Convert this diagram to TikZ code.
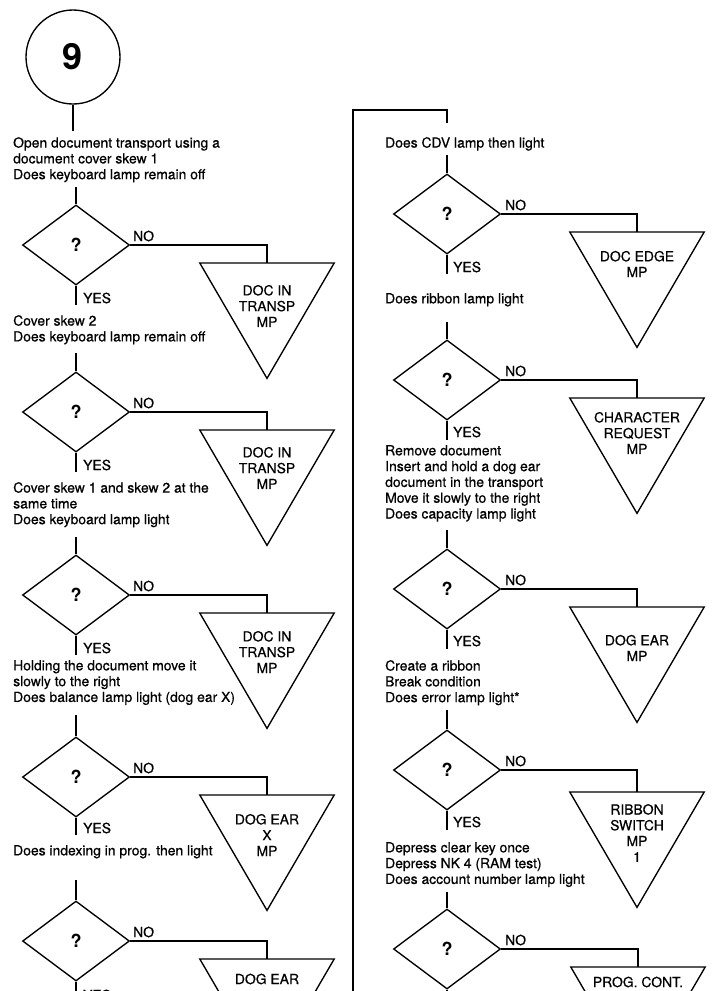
\documentclass[tikz,border=0pt]{standalone}
\usepackage{fontspec}
\setmainfont{TeX Gyre Heros}
\newfontfamily\printfont{TeX Gyre Heros}[FakeBold=0.6]
\usetikzlibrary{shapes.geometric}
\newcommand\bodyfont{\printfont\fontsize{13.9}{15.8}\selectfont}

\begin{document}
\begin{tikzpicture}[x=1pt,y=-1pt,
  flow/.style={line width=1.35pt, line join=miter},
  decision/.style={diamond, draw, line width=1.35pt, minimum width=107pt,
    minimum height=80pt, inner sep=0pt, font=\bfseries\fontsize{18}{18}\selectfont},
  stub/.style={minimum width=134pt, minimum height=115pt, inner sep=0pt, anchor=north},
  note/.style={anchor=north west, align=left, inner sep=0pt, font=\bodyfont},
  tag/.style={anchor=west, inner sep=0pt, font=\bodyfont},
  stubtext/.style={align=center, inner sep=0pt, font=\bodyfont},
]
\useasboundingbox (0,0) rectangle (712,991);
\clip (0,0) rectangle (712,991);

% ---------------- left column ----------------
\node[draw, circle, flow, minimum size=94pt, inner sep=0pt,
      font=\bfseries\fontsize{36}{36}\selectfont] (c9) at (73,57) {9};
\coordinate (a0) at (73,131);
\draw[flow] (c9.south) -- (a0);

\node[note] (t1) at (13,137) {Open document transport using a\\document cover skew 1\\Does keyboard lamp remain off};
\coordinate (b1) at (76,187);
\node[decision] (d1) at (76,245) {?};
\draw[flow] (b1) -- (d1.north);
\node[stub] (p1) at (267,263) {};
\draw[flow] (p1.north west) -- (p1.north east) -- (p1.south) -- cycle;
\draw[flow] (d1.east) -| (p1.north);
\node[tag] (n1) at (133,236) {NO};
\node[stubtext] (s1) at (267,306) {DOC IN\\TRANSP\\MP};
\coordinate (y1) at (76,305);
\draw[flow] (d1.south) -- (y1);
\node[tag] (k1) at (83,298) {YES};

\node[note] (t2) at (13,315) {Cover skew 2\\Does keyboard lamp remain off};
\coordinate (b2) at (76,353);
\node[decision] (d2) at (76,412) {?};
\draw[flow] (b2) -- (d2.north);
\node[stub] (p2) at (267,430) {};
\draw[flow] (p2.north west) -- (p2.north east) -- (p2.south) -- cycle;
\draw[flow] (d2.east) -| (p2.north);
\node[tag] (n2) at (133,403) {NO};
\node[stubtext] (s2) at (267,468) {DOC IN\\TRANSP\\MP};
\coordinate (y2) at (76,472);
\draw[flow] (d2.south) -- (y2);
\node[tag] (k2) at (83,465) {YES};

\node[note] (t3) at (13,482) {Cover skew 1 and skew 2 at the\\same time\\Does keyboard lamp light};
\coordinate (b3) at (76,537);
\node[decision] (d3) at (76,595) {?};
\draw[flow] (b3) -- (d3.north);
\node[stub] (p3) at (267,613) {};
\draw[flow] (p3.north west) -- (p3.north east) -- (p3.south) -- cycle;
\draw[flow] (d3.east) -| (p3.north);
\node[tag] (n3) at (133,586) {NO};
\node[stubtext] (s3) at (267,652) {DOC IN\\TRANSP\\MP};
\coordinate (y3) at (76,655);
\draw[flow] (d3.south) -- (y3);
\node[tag] (k3) at (83,648) {YES};

\node[note] (t4) at (13,660) {Holding the document move it\\slowly to the right\\Does balance lamp light (dog ear X)};
\coordinate (b4) at (76,715);
\node[decision] (d4) at (76,777) {?};
\draw[flow] (b4) -- (d4.north);
\node[stub] (p4) at (267,795) {};
\draw[flow] (p4.north west) -- (p4.north east) -- (p4.south) -- cycle;
\draw[flow] (d4.east) -| (p4.north);
\node[tag] (n4) at (133,768) {NO};
\node[stubtext] (s4) at (267,835) {DOG EAR\\X\\MP};
\coordinate (y4) at (76,835);
\draw[flow] (d4.south) -- (y4);
\node[tag] (k4) at (83,828) {YES};

\node[note] (t5) at (13,845) {Does indexing in prog. then light};
\coordinate (b5) at (76,880);
\node[decision] (d5) at (76,941) {?};
\draw[flow] (b5) -- (d5.north);
\node[stub] (p5) at (267,959) {};
\draw[flow] (p5.north west) -- (p5.north east) -- (p5.south) -- cycle;
\draw[flow] (d5.east) -| (p5.north);
\node[tag] (n5) at (133,932) {NO};
\node[stubtext] (s5) at (267,979) {DOG EAR};
\coordinate (y5) at (76,1005);
\draw[flow] (d5.south) -- (y5);
\node[tag] (k5) at (83,995) {YES};

% ---------------- continuation into right column ----------------
\coordinate (lo) at (353,1010);
\coordinate (lt) at (447,110);
\coordinate (r0) at (447,123);
\draw[flow] (lo) |- (lt) -- (r0);

% ---------------- right column ----------------
\node[note] (u1) at (385,137) {Does CDV lamp then light};
\coordinate (rb1) at (447,155);
\node[decision] (e1) at (447,214) {?};
\draw[flow] (rb1) -- (e1.north);
\node[stub] (q1) at (637,232) {};
\draw[flow] (q1.north west) -- (q1.north east) -- (q1.south) -- cycle;
\draw[flow] (e1.east) -| (q1.north);
\node[tag] (m1) at (505,205) {NO};
\node[stubtext] (v1) at (637,264) {DOC EDGE\\MP};
\coordinate (ry1) at (447,274);
\draw[flow] (e1.south) -- (ry1);
\node[tag] (j1) at (453,267) {YES};

\node[note] (u2) at (385,293) {Does ribbon lamp light};
\coordinate (rb2) at (447,322);
\node[decision] (e2) at (447,380) {?};
\draw[flow] (rb2) -- (e2.north);
\node[stub] (q2) at (637,398) {};
\draw[flow] (q2.north west) -- (q2.north east) -- (q2.south) -- cycle;
\draw[flow] (e2.east) -| (q2.north);
\node[tag] (m2) at (505,371) {NO};
\node[stubtext] (v2) at (637,433) {CHARACTER\\REQUEST\\MP};
\coordinate (ry2) at (447,440);
\draw[flow] (e2.south) -- (ry2);
\node[tag] (j2) at (453,432) {YES};

\node[note] (u3) at (385,445) {Remove document\\Insert and hold a dog ear\\document in the transport\\Move it slowly to the right\\Does capacity lamp light};
\coordinate (rb3) at (447,530);
\node[decision] (e3) at (447,589) {?};
\draw[flow] (rb3) -- (e3.north);
\node[stub] (q3) at (637,607) {};
\draw[flow] (q3.north west) -- (q3.north east) -- (q3.south) -- cycle;
\draw[flow] (e3.east) -| (q3.north);
\node[tag] (m3) at (505,580) {NO};
\node[stubtext] (v3) at (637,648) {DOG EAR\\MP};
\coordinate (ry3) at (447,649);
\draw[flow] (e3.south) -- (ry3);
\node[tag] (j3) at (453,641) {YES};

\node[note] (u4) at (385,660) {Create a ribbon\\Break condition\\Does error lamp light*};
\coordinate (rb4) at (447,710);
\node[decision] (e4) at (447,770) {?};
\draw[flow] (rb4) -- (e4.north);
\node[stub] (q4) at (637,792) {};
\draw[flow] (q4.north west) -- (q4.north east) -- (q4.south) -- cycle;
\draw[flow] (e4.east) -| (q4.north);
\node[tag] (m4) at (505,761) {NO};
\node[stubtext] (v4) at (637,833) {RIBBON\\SWITCH\\MP\\1};
\coordinate (ry4) at (447,830);
\draw[flow] (e4.south) -- (ry4);
\node[tag] (j4) at (453,822) {YES};

\node[note] (u5) at (385,842) {Depress clear key once\\Depress NK 4 (RAM test)\\Does account number lamp light};
\coordinate (rb5) at (447,892);
\node[decision] (e5) at (447,949) {?};
\draw[flow] (rb5) -- (e5.north);
\node[stub] (q5) at (638,967) {};
\draw[flow] (q5.north west) -- (q5.north east) -- (q5.south) -- cycle;
\draw[flow] (e5.east) -| (q5.north);
\node[tag] (m5) at (505,940) {NO};
\node[stubtext] (v5) at (638,982) {PROG. CONT.};
\coordinate (ry5) at (447,1010);
\draw[flow] (e5.south) -- (ry5);
\end{tikzpicture}
\end{document}
